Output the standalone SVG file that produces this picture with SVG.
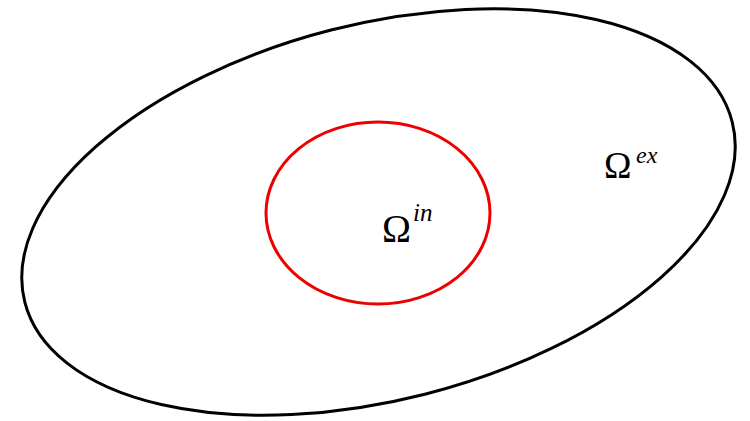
<svg xmlns="http://www.w3.org/2000/svg" width="750" height="421" viewBox="0 0 750 421">
<style>
.lbl{font-family:"Liberation Serif","DejaVu Serif",serif;fill:#000}
.sup{font-family:"Liberation Serif","DejaVu Serif",serif;font-style:italic;fill:#000}
</style>
<rect width="750" height="421" fill="#fff"/>
<g id="outer">
<ellipse cx="378.5" cy="212" rx="365" ry="188" transform="rotate(-14.3 378.5 212)" fill="none" stroke="#000" stroke-width="3"/>
<text class="lbl" x="604" y="178" font-size="37">Ω</text>
<text class="sup" x="636" y="163" font-size="24">ex</text>
</g>
<g id="inner">
<ellipse cx="378" cy="213" rx="112" ry="91" fill="none" stroke="#e00" stroke-width="3"/>
<text class="lbl" x="382" y="242" font-size="39">Ω</text>
<text class="sup" x="413" y="221" font-size="25">in</text>
</g>
</svg>
